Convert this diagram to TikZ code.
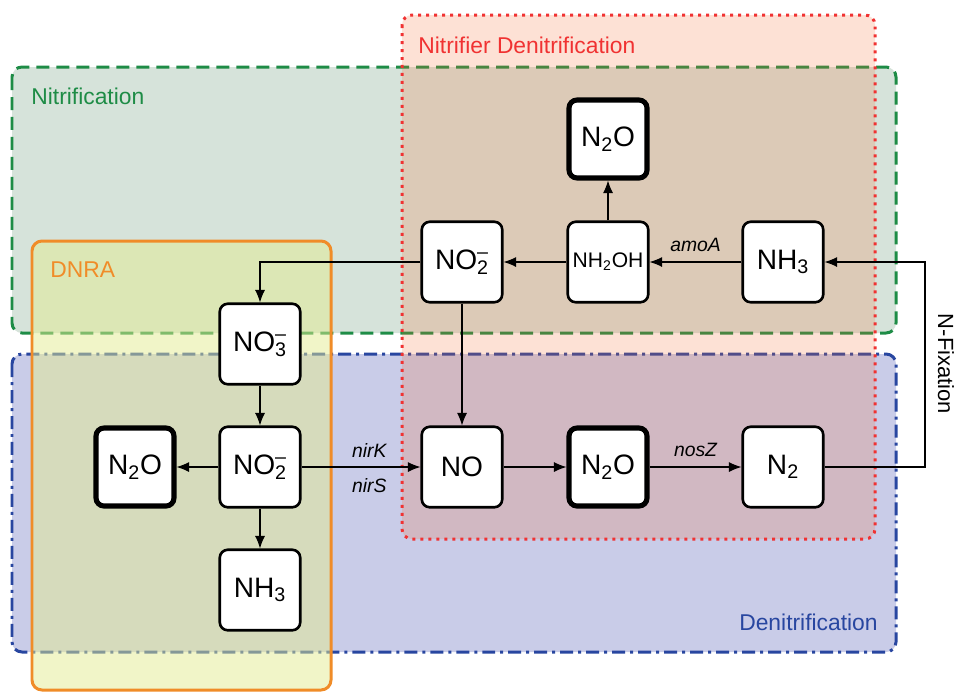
\documentclass[tikz,border=0pt]{standalone}
\usepackage{fontspec}
\setmainfont{Liberation Sans}
\usetikzlibrary{arrows.meta}

\definecolor{nitgreen}{RGB}{30,140,70}
\definecolor{nitfill}{RGB}{214,227,218}
\definecolor{denblue}{RGB}{40,70,160}
\definecolor{denfill}{RGB}{201,204,232}
\definecolor{ndred}{RGB}{240,50,50}
\definecolor{ndfill}{RGB}{245,105,45}
\definecolor{dnraorange}{RGB}{240,140,40}
\definecolor{dnrafill}{RGB}{227,235,145}

\newcommand{\ion}[2]{\rlap{\textsubscript{#1}}\textsuperscript{#2}}

\begin{document}
\begin{tikzpicture}[x=0.02cm, y=-0.02cm, >={Latex[length=2.5mm,width=2mm]},
    region/.style={line width=1.7pt, rounded corners=0.2cm},
    procname/.style={inner sep=0pt, font=\fontsize{13}{15}\selectfont},
    chem/.style={draw, fill=white, line width=1.5pt, rounded corners=0.16cm, minimum size=1.61cm, inner sep=0pt, font=\fontsize{16}{19}\selectfont},
    sink/.style={chem, line width=2.9pt, minimum size=1.56cm},
    gene/.style={font=\fontsize{11}{13}\selectfont\itshape},
    flow/.style={->, line width=0.6pt}]
      \useasboundingbox (0,0) rectangle (955,691);

      \draw[region, nitgreen, fill=nitfill, dash pattern=on 0.26cm off 0.14cm] (12,67) rectangle (896,333);
      \draw[region, denblue, fill=denfill, dash pattern=on 0.26cm off 0.1cm on 0.06cm off 0.1cm] (12,354) rectangle (896,652);
      \draw[region, ndred, fill=ndfill, fill opacity=0.2, dash pattern=on 0.06cm off 0.1cm] (402,15) rectangle (875,539);
      \draw[region, dnraorange, fill=dnrafill, fill opacity=0.5] (32,241) rectangle (331,690);

      \node[procname, nitgreen, anchor=west] (nitlabel) at (31,96) {Nitrification};
      \node[procname, ndred, anchor=west] (ndlabel) at (418,45) {Nitrifier Denitrification};
      \node[procname, dnraorange, anchor=west] (dnralabel) at (50,270) {DNRA};
      \node[procname, denblue, anchor=east] (denlabel) at (878,622) {Denitrification};

      \node[chem] (no2top) at (462,262) {NO\ion{2}{--}};
      \node[chem, font=\fontsize{12}{14}\selectfont] (nh2oh) at (608,262) {NH\textsubscript{2}OH};
      \node[chem] (nh3top) at (783,262) {NH\textsubscript{3}};
      \node[sink] (n2otop) at (608,139) {N\textsubscript{2}O};

      \node[chem] (no3) at (260,344) {NO\ion{3}{--}};
      \node[chem] (no2) at (260,467) {NO\ion{2}{--}};
      \node[sink] (n2oleft) at (135,467) {N\textsubscript{2}O};
      \node[chem] (nh3bot) at (260,590) {NH\textsubscript{3}};

      \node[chem] (no) at (462,467) {NO};
      \node[sink] (n2omid) at (608,467) {N\textsubscript{2}O};
      \node[chem] (n2) at (783,467) {N\textsubscript{2}};

      \draw[flow] (nh3top) -- node[gene, above=2pt] {amoA} (nh2oh);
      \draw[flow] (nh2oh) -- (no2top);
      \draw[flow] (nh2oh) -- (n2otop);
      \draw[flow] (no2top.west) -| (no3.north);
      \draw[flow] (no2top) -- (no);
      \draw[flow] (no3) -- (no2);
      \draw[flow] (no2) -- (n2oleft);
      \draw[flow] (no2) -- (nh3bot);
      \draw[flow] (no2) -- node[gene, pos=0.57, above=2pt] {nirK} node[gene, pos=0.57, below=3pt] {nirS} (no);
      \draw[flow] (no) -- (n2omid);
      \draw[flow] (n2omid) -- node[gene, above=2pt] {nosZ} (n2);

      \coordinate (fixturn) at (925,467);
      \draw[flow] (n2.east) -- (fixturn) |- (nh3top.east);
      \node[rotate=-90, font=\fontsize{12.5}{15}\selectfont] (nfix) at (946,364) {N-Fixation};

    \end{tikzpicture}
\end{document}
